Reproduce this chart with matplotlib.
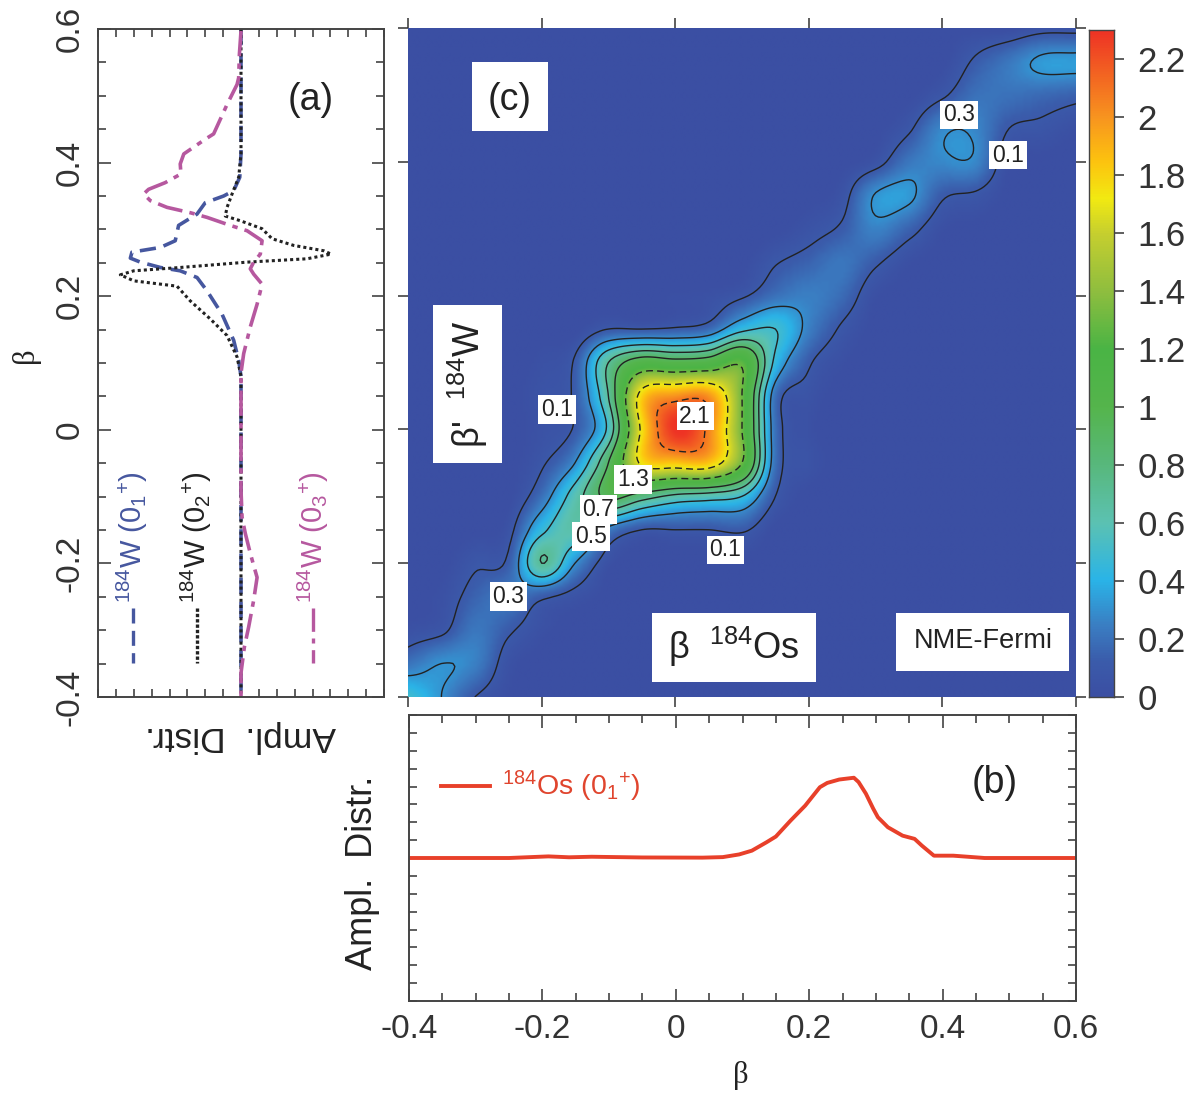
import numpy as np
import matplotlib
matplotlib.use("Agg")
import matplotlib.pyplot as plt
from matplotlib.colors import LinearSegmentedColormap
from matplotlib.patches import Rectangle
from matplotlib.ticker import MultipleLocator

plt.rcParams['font.family'] = ['Liberation Sans', 'DejaVu Sans']
plt.rcParams['mathtext.default'] = 'regular'

W, H = 1193, 1093

# ---- panel (c): amplitude grid; columns beta -0.4..0.6, rows beta' 0.6..-0.4
beta_grid = [-0.4,-0.35,-0.3,-0.25,-0.2,-0.15,-0.1,-0.05,0,0.05,0.1,0.15,0.2,0.25,0.3,0.35,0.4,0.45,0.5,0.55,0.6]
betap_grid = beta_grid[::-1]
overlap = [
 [0,0,0,0,0,0,0,0,0,0,0,0,0,0,0,0,0,0,0,.05,.05],
 [0,0,0,0,0,0,0,0,0,0,0,0,0,0,0,0,0,.12,.22,.33,.34],
 [0,0,0,0,0,0,0,0,0,0,0,0,0,0,0,0,.08,.20,.20,.17,.14],
 [0,0,0,0,0,0,0,0,0,0,0,0,0,0,0,.08,.275,.275,.10,.07,.02],
 [0,0,0,0,0,0,0,0,0,0,0,0,0,0,.05,.22,.275,.275,.02,0,0],
 [0,0,0,0,0,0,0,0,0,0,0,0,0,.05,.31,.33,.12,.08,0,0,0],
 [0,0,0,0,0,0,0,0,0,0,0,0,.05,.12,.26,.15,.02,0,0,0,0],
 [0,0,0,0,0,0,0,0,0,0,0,.09,.15,.22,.12,.02,0,0,0,0,0],
 [0,0,0,0,0,0,0,0,.02,.03,.08,.20,.25,.18,.02,0,0,0,0,0,0],
 [0,0,0,0,0,.0,.10,.10,.12,.18,.45,.50,.25,.08,0,0,0,0,0,0,0],
 [0,0,0,0,.03,.12,.70,1.05,1.0,1.05,1.25,.45,.12,.02,0,0,0,0,0,0,0],
 [0,0,0,0,.05,.13,.70,1.80,2.0,2.0,1.30,.20,.05,0,0,0,0,0,0,0,0],
 [0,0,0,0,.04,.12,.55,1.75,2.3,2.05,1.30,.20,.03,0,0,0,0,0,0,0,0],
 [0,0,0,.0,.08,.30,.90,1.75,1.85,1.85,1.30,.20,.05,0,0,0,0,0,0,0,0],
 [0,0,0,.0,.20,.60,.95,.80,.65,.60,.50,.10,0,0,0,0,0,0,0,0,0],
 [0,0,0,.05,.45,.62,.25,.10,.10,.10,.12,0,0,0,0,0,0,0,0,0,0],
 [0,0,.08,.13,.70,.30,.03,0,0,0,0,0,0,0,0,0,0,0,0,0,0],
 [0,.03,.15,.22,.13,.05,0,0,0,0,0,0,0,0,0,0,0,0,0,0,0],
 [.03,.07,.22,.12,.03,0,0,0,0,0,0,0,0,0,0,0,0,0,0,0,0],
 [.20,.30,.25,.04,0,0,0,0,0,0,0,0,0,0,0,0,0,0,0,0,0],
 [.50,.30,.10,.01,0,0,0,0,0,0,0,0,0,0,0,0,0,0,0,0,0],
]
contour_solid = [0.1, 0.3, 0.5, 0.7, 0.9]
contour_dashed = [1.3, 1.7, 2.1]
contour_labels = ['0.1', '0.1', '0.1', '0.3', '0.3', '0.5', '0.7', '1.3', '2.1']
contour_label_beta = [-0.177, 0.075, 0.498, -0.25, 0.425, -0.126, -0.115, -0.063, 0.03]
contour_label_betap = [0.03, -0.18, 0.41, -0.25, 0.47, -0.16, -0.12, -0.075, 0.02]

# ---- panel (a): amplitude distributions of 184W
w01_beta = [.6,.413,.378,.358,.350,.340,.323,.306,.283,.273,.266,.257,.251,.243,.238,.228,.208,.173,.134,.104,.08,-.4]
w01_amp = [0,0,-.07,-.41,-.97,-2.0,-2.46,-3.49,-3.68,-4.51,-6.1,-6.19,-5.63,-4.51,-3.4,-2.46,-1.9,-1.06,-.41,-.13,0,0]
w02_beta = [.6,.413,.378,.353,.333,.320,.313,.301,.286,.276,.268,.263,.256,.251,.243,.238,.232,.223,.215,.193,.166,.141,.109,.08,-.4]
w02_amp = [0,0,-.13,-.5,-.78,-.88,-.04,1.18,1.74,2.95,4.63,5.04,3.69,.34,-3.4,-6.0,-6.75,-6.0,-3.58,-2.84,-1.72,-.78,-.22,0,0]
w03_beta = [.597,.562,.527,.517,.487,.443,.435,.413,.398,.383,.370,.360,.353,.343,.333,.325,.318,.306,.298,.283,.263,.251,.241,.233,.218,.188,.154,.114,.085,-.09,-.131,-.155,-.185,-.221,-.255,-.295,-.325,-.364,-.4]
w03_amp = [0,-.09,-.13,-.22,-.78,-1.53,-2.0,-3.2,-3.4,-3.36,-4.24,-5.17,-5.45,-5.07,-4.14,-2.84,-1.9,-.6,.34,1.18,1.08,.71,.52,.71,1.18,.9,.52,.15,0,0,.06,.24,.52,.9,.71,.43,.19,0,0]

# ---- panel (b): amplitude distribution of 184Os
os_beta = [-.4,-.25,-.191,-.16,-.126,-.05,.04,.0705,.095,.114,.136,.150,.172,.194,.216,.227,.245,.267,.274,.285,.296,.303,.318,.34,.358,.369,.387,.416,.463,.6]
os_amp = [0,0,.09,.04,.07,.03,.02,.05,.2,.41,.88,1.2,2.09,2.93,3.96,4.2,4.39,4.49,4.25,3.6,2.76,2.28,1.72,1.25,1.07,.69,.13,.13,0,0]

cbar_ticks = [0,.2,.4,.6,.8,1,1.2,1.4,1.6,1.8,2,2.2]
cbar_ticklabels = ['0','0.2','0.4','0.6','0.8','1','1.2','1.4','1.6','1.8','2','2.2']
panel_ticks = [-.4,-.2,0,.2,.4,.6]
panel_ticklabels = ['-0.4','-0.2','0','0.2','0.4','0.6']

cmap = LinearSegmentedColormap.from_list('nme', [
    (0/2.3,'#3b4fa3'),(.12/2.3,'#3b5cab'),(.25/2.3,'#3a80c4'),(.4/2.3,'#2ab4e8'),(.6/2.3,'#5cc2b2'),
    (.8/2.3,'#58b87c'),(1./2.3,'#55b54c'),(1.2/2.3,'#4ab445'),(1.4/2.3,'#8fbe3f'),(1.6/2.3,'#c6cf2f'),
    (1.72/2.3,'#f2ea12'),(1.85/2.3,'#fdc30f'),(2.0/2.3,'#f8951f'),(2.3/2.3,'#ee3325')])


def px_axes(fig, x0, y0, x1, y1, **kw):
    return fig.add_axes([x0/W, 1-y1/H, (x1-x0)/W, (y1-y0)/H], **kw)


def catmull(z, factor):
    """Smooth display resampling of a grid along its first axis."""
    z = np.asarray(z, float)
    n = z.shape[0]
    pad = np.concatenate([2*z[:1]-z[1:2], z, 2*z[-1:]-z[-2:-1]], axis=0)
    t = np.linspace(0, n-1, (n-1)*factor+1)
    i = np.minimum(t.astype(int), n-2)
    u = (t-i)[:, None]
    p0, p1, p2, p3 = pad[i], pad[i+1], pad[i+2], pad[i+3]
    return 0.5*(2*p1+(p2-p0)*u+(2*p0-5*p1+4*p2-p3)*u**2+(3*p1-p0-3*p2+p3)*u**3)


fig = plt.figure(figsize=(W/100, H/100), dpi=100, facecolor='white')
GREY = '#444444'


def frame(ax, c=GREY, lw=1.4):
    for s in ax.spines.values():
        s.set_color(c)
        s.set_linewidth(lw)


# ---------- main map
axc = px_axes(fig, 408, 28, 1076, 697)
Z = np.asarray(overlap, float)
F = 12
Zf = catmull(catmull(Z, F).T, F).T
Zf = np.clip(Zf, 0, None)
bx = np.linspace(-.4, .6, Zf.shape[1])
by = np.linspace(.6, -.4, Zf.shape[0])
im = axc.imshow(Zf, extent=[-.4, .6, -.4, .6], origin='upper', cmap=cmap, vmin=0, vmax=2.3,
                aspect='auto', interpolation='bilinear')
axc.contour(bx, by, Zf, levels=contour_solid, colors='#222222', linewidths=1.0, linestyles='solid')
axc.contour(bx, by, Zf, levels=contour_dashed, colors='#222222', linewidths=1.0, linestyles=[(0, (5, 3))])
for t, xx, yy in zip(contour_labels, contour_label_beta, contour_label_betap):
    axc.text(xx, yy, t, ha='center', va='center', fontsize=16.5, color='#222222', zorder=6,
             bbox=dict(fc='white', ec='none', pad=2.0))
axc.set_xlim(-.4, .6)
axc.set_ylim(-.4, .6)
axc.set_xticks(panel_ticks)
axc.set_yticks(panel_ticks)
axc.tick_params(which='major', direction='out', length=7, width=1.1, color='#333333',
                labelbottom=False, labelleft=False, top=True, right=True)
for s in axc.spines.values():
    s.set_visible(False)

# white boxed annotations on the map, positioned in figure pixels
def box(x0, y0, x1, y1):
    fig.add_artist(Rectangle((x0/W, 1-y1/H), (x1-x0)/W, (y1-y0)/H, transform=fig.transFigure,
                             fc='white', ec='none', zorder=5))

def ftext(x, y, s, **kw):
    kw.setdefault('color', '#222222')
    kw.setdefault('ha', 'center')
    kw.setdefault('va', 'center')
    kw.setdefault('zorder', 6)
    fig.text(x/W, 1-y/H, s, **kw)

box(472, 62, 548, 131)
ftext(510, 100, '(c)', fontsize=27)
box(433, 305, 502, 463)
ftext(468, 384, "β'  $^{184}$W", fontsize=26, rotation=90)
box(652, 613, 816, 682)
ftext(734, 647, "β  $^{184}$Os", fontsize=26)
box(896, 613, 1069, 671)
ftext(983, 641, 'NME-Fermi', fontsize=19.5)

# ---------- colour bar
axb = px_axes(fig, 1089, 30, 1114, 697)
grad = np.linspace(2.3, 0, 512)[:, None]
axb.imshow(grad, extent=[0, 1, 0, 2.3], cmap=cmap, vmin=0, vmax=2.3, aspect='auto')
axb.set_xticks([])
axb.yaxis.tick_right()
axb.set_yticks(cbar_ticks)
axb.set_yticklabels(cbar_ticklabels, fontsize=25, color='#333333')
axb.tick_params(axis='y', direction='out', length=7, width=1.1, pad=10, color='#333333')
frame(axb, '#444444', 1.0)

# ---------- panel a
axa = px_axes(fig, 98, 29, 384, 697)
axa.plot(w01_amp, w01_beta, color='#46579f', lw=2.6, ls=(0, (4.5, 2.2)))
axa.plot(w02_amp, w02_beta, color='#222222', lw=2.2, ls=(0, (1, 1)))
axa.plot(w03_amp, w03_beta, color='#b6589f', lw=2.6, ls=(0, (7, 2, 1.5, 2)))
axa.set_xlim(-8, 8)
axa.set_ylim(-.4, .6)
axa.xaxis.set_major_locator(MultipleLocator(1))
axa.set_xticklabels([])
axa.set_yticks(panel_ticks)
axa.set_yticklabels(panel_ticklabels, rotation=90, va='center', fontsize=24, color='#333333')
axa.yaxis.set_minor_locator(MultipleLocator(.05))
axa.tick_params(which='major', axis='y', direction='in', length=9, width=1.1, left=True, right=True, pad=9, color='#333333')
axa.tick_params(which='minor', axis='y', direction='in', length=6, width=1.1, left=True, right=True, color='#333333')
axa.tick_params(which='major', axis='x', direction='in', length=6, width=1.1, top=True, bottom=True, color='#333333')
frame(axa)
ftext(311, 100, '(a)', fontsize=27)
ftext(26, 355, 'β', fontsize=22, rotation=90, family=['Liberation Serif'])
ftext(241, 737, 'Ampl.  Distr.', fontsize=25.5, rotation=180)

legend_a = [(133, '#46579f', (0, (4.5, 2.2)), '$^{184}$W (0$_1$$^{+}$)', 132),
            (197, '#222222', (0, (1, .6)), '$^{184}$W (0$_2$$^{+}$)', 196),
            (313, '#b6589f', (0, (7, 2, 1.5, 2)), '$^{184}$W (0$_3$$^{+}$)', 313)]
for xp, col, ls, lab, tx in legend_a:
    fig.add_artist(plt.Line2D([xp/W, xp/W], [1-608/H, 1-663/H], transform=fig.transFigure,
                              color=col, lw=2.4, ls=ls))
    ftext(tx, 537, lab, fontsize=21, rotation=90, color=col)

# ---------- panel b
axo = px_axes(fig, 409, 715, 1076, 1001)
axo.plot(os_beta, os_amp, color='#e8402a', lw=2.8, solid_joinstyle='round')
axo.set_xlim(-.4, .6)
axo.set_ylim(-8, 8)
axo.set_xticks(panel_ticks)
axo.set_xticklabels(panel_ticklabels, fontsize=24, color='#333333')
axo.xaxis.set_minor_locator(MultipleLocator(.05))
axo.yaxis.set_major_locator(MultipleLocator(1))
axo.set_yticklabels([])
axo.tick_params(which='major', axis='x', direction='in', length=9, width=1.1, top=True, bottom=True, pad=9, color='#333333')
axo.tick_params(which='minor', axis='x', direction='in', length=6, width=1.1, top=True, bottom=True, color='#333333')
axo.tick_params(which='major', axis='y', direction='in', length=6, width=1.1, left=True, right=True, color='#333333')
frame(axo)
fig.add_artist(plt.Line2D([441/W, 490/W], [1-786/H, 1-786/H], transform=fig.transFigure, color='#e8402a', lw=2.8))
ftext(571, 786, '$^{184}$Os (0$_1$$^{+}$)', fontsize=20.5, color='#e0452e')
ftext(995, 783, '(b)', fontsize=27)
ftext(363, 873, 'Ampl.  Distr.', fontsize=26, rotation=90)
ftext(741, 1075, 'β', fontsize=22, family=['Liberation Serif'])

fig.savefig('out.png', dpi=100)
